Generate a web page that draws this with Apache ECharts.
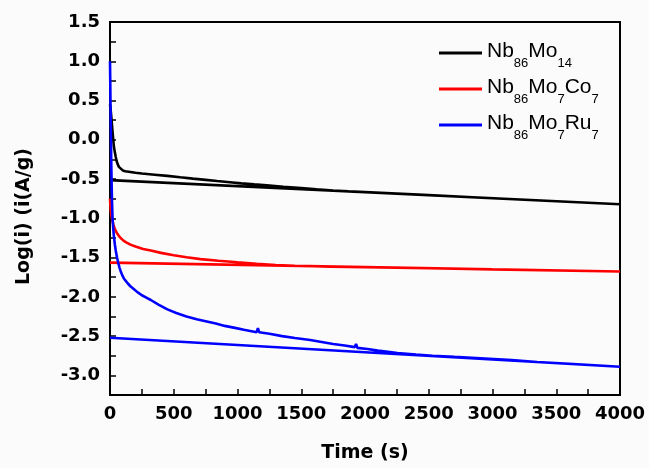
<!DOCTYPE html>
<html><head><meta charset="utf-8">
<script src="https://cdn.jsdelivr.net/npm/echarts@6/dist/echarts.min.js"></script>
<style>html,body{margin:0;padding:0;background:#fbfbfb}#c{width:649px;height:468px}</style>
</head><body><div id="c"></div>
<script>
// ---- data ----
const seriesNames = ['Nb86Mo14', 'Nb86Mo7Co7', 'Nb86Mo7Ru7'];
const legendLabels = [
  '{m|Nb}{s|86}{m|Mo}{s|14}',
  '{m|Nb}{s|86}{m|Mo}{s|7}{m|Co}{s|7}',
  '{m|Nb}{s|86}{m|Mo}{s|7}{m|Ru}{s|7}'
];
const seriesColors = ['#000000', '#ff0000', '#0000ff'];

// Nb86Mo14 (decay curve, then the record returns to t=0 as a straight segment)
const blackTime = [0, 5, 10, 15, 20, 25, 30, 38, 45, 52, 60, 70, 83, 100, 120, 160, 200, 250, 350, 450, 550, 650, 750, 840, 940, 1030, 1130, 1230, 1360, 1500, 1620, 1750, 1870, 2000, 2500, 3000, 3500, 4000, 0];
const blackLog  = [0.45, 0.38, 0.30, 0.20, 0.10, 0.01, -0.08, -0.16, -0.22, -0.27, -0.31, -0.345, -0.37, -0.39, -0.40, -0.41, -0.42, -0.43, -0.445, -0.46, -0.478, -0.495, -0.51, -0.525, -0.54, -0.555, -0.568, -0.58, -0.598, -0.615, -0.63, -0.645, -0.657, -0.667, -0.705, -0.744, -0.782, -0.82, -0.514];

// Nb86Mo7Co7
const redTime = [0, 3, 5, 8, 10, 15, 20, 27, 35, 45, 55, 68, 83, 100, 120, 160, 200, 260, 320, 400, 500, 600, 710, 850, 1000, 1150, 1300, 1450, 1600, 2000, 2500, 3000, 3500, 4000, 0];
const redLog  = [-0.75, -0.83, -0.88, -0.93, -0.96, -1.00, -1.04, -1.08, -1.12, -1.16, -1.19, -1.22, -1.25, -1.275, -1.30, -1.335, -1.36, -1.39, -1.41, -1.44, -1.47, -1.495, -1.52, -1.54, -1.56, -1.578, -1.595, -1.605, -1.612, -1.621, -1.635, -1.65, -1.664, -1.678, -1.564];

// Nb86Mo7Ru7
const blueTime = [0, 2, 4, 6, 8, 10, 13, 16, 20, 25, 30, 38, 45, 55, 65, 75, 83, 95, 110, 125, 140, 160, 186, 215, 250, 285, 320, 380, 450, 520, 600, 680, 750, 830, 900, 980, 1050, 1100, 1150, 1160, 1170, 1250, 1350, 1450, 1570, 1660, 1750, 1840, 1920, 1930, 1940, 2020, 2100, 2180, 2255, 2400, 2530, 2700, 2940, 3150, 3350, 3600, 4000, 0];
const blueLog  = [1.0, 0.75, 0.45, 0.2, -0.05, -0.3, -0.58, -0.8, -1.0, -1.12, -1.22, -1.33, -1.41, -1.50, -1.57, -1.63, -1.67, -1.72, -1.77, -1.80, -1.83, -1.865, -1.90, -1.94, -1.98, -2.01, -2.04, -2.10, -2.16, -2.205, -2.25, -2.285, -2.31, -2.34, -2.37, -2.395, -2.42, -2.435, -2.45, -2.40, -2.45, -2.47, -2.50, -2.525, -2.55, -2.575, -2.60, -2.62, -2.64, -2.60, -2.65, -2.665, -2.685, -2.70, -2.715, -2.735, -2.75, -2.765, -2.785, -2.805, -2.83, -2.852, -2.89, -2.52];

const xMin = 0, xMax = 4000, xStep = 250;
const yMin = -3.25, yMax = 1.5, yStep = 0.25;
const xAxisTitle = 'Time (s)';
const yAxisTitle = 'Log(i) (i(A/g)';

// ---- chart ----
const pairs = (t, v) => t.map((x, i) => [x, v[i]]);
const allTimes = [blackTime, redTime, blueTime];
const allLogs = [blackLog, redLog, blueLog];

const labelFont = 'DejaVu Sans';
const chart = echarts.init(document.getElementById('c'), null, {renderer: 'canvas'});
chart.setOption({
  animation: false,
  backgroundColor: '#fbfbfb',
  grid: {left: 110, right: 29, top: 22, bottom: 69, show: true, borderColor: '#000', borderWidth: 2, backgroundColor: 'transparent'},
  legend: {
    orient: 'vertical', left: 439, top: 41, padding: 0,
    icon: 'rect', itemWidth: 43, itemHeight: 3, itemGap: 7,
    data: seriesNames,
    formatter: name => legendLabels[seriesNames.indexOf(name)],
    textStyle: {
      rich: {
        m: {fontFamily: 'Liberation Sans', fontSize: 21, color: '#000', lineHeight: 24, verticalAlign: 'top'},
        s: {fontFamily: 'Liberation Sans', fontSize: 13, color: '#000', lineHeight: 13, verticalAlign: 'top', padding: [16, 0, 0, 0]}
      }
    }
  },
  xAxis: {
    type: 'value', min: xMin, max: xMax, interval: xStep,
    name: xAxisTitle, nameLocation: 'middle', nameGap: 49,
    nameTextStyle: {fontFamily: labelFont, fontWeight: 'bold', fontSize: 19, color: '#000'},
    axisLine: {onZero: false, lineStyle: {color: '#000', width: 2}},
    axisTick: {inside: true, length: 6, lineStyle: {color: '#000', width: 1.5}},
    axisLabel: {
      margin: 10, fontFamily: labelFont, fontWeight: 'bold', fontSize: 18, color: '#000',
      formatter: v => (v % 500 === 0 ? String(v) : '')
    },
    splitLine: {show: false}
  },
  yAxis: {
    type: 'value', min: yMin, max: yMax, interval: yStep,
    name: yAxisTitle, nameLocation: 'middle', nameGap: 76,
    nameTextStyle: {fontFamily: labelFont, fontWeight: 'bold', fontSize: 19, color: '#000', padding: [0, 16, 0, 0]},
    axisLine: {onZero: false, lineStyle: {color: '#000', width: 2}},
    axisTick: {inside: true, length: 6, lineStyle: {color: '#000', width: 1.5}},
    axisLabel: {
      margin: 10, fontFamily: labelFont, fontWeight: 'bold', fontSize: 18, color: '#000',
      formatter: v => {
        const d = v * 2;
        return (Math.abs(d - Math.round(d)) < 1e-6 && v >= -3.001) ? v.toFixed(1) : '';
      }
    },
    splitLine: {show: false}
  },
  series: seriesNames.map((n, i) => ({
    name: n, type: 'line', symbol: 'none', showSymbol: false,
    data: pairs(allTimes[i], allLogs[i]),
    lineStyle: {color: seriesColors[i], width: 2.6},
    itemStyle: {color: seriesColors[i]}
  }))
});
</script></body></html>
